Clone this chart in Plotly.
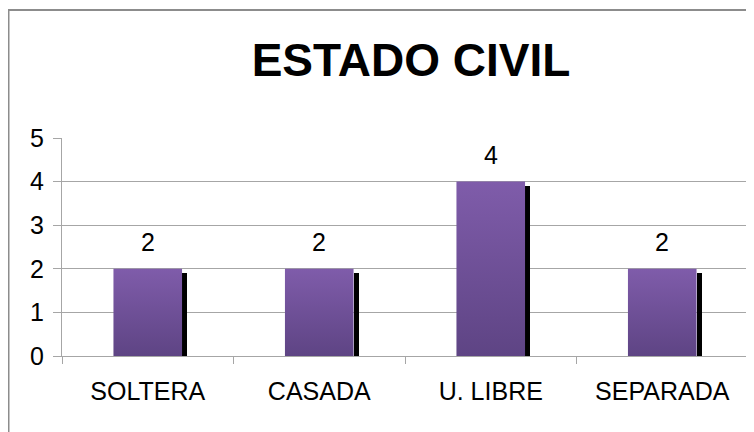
import plotly.graph_objects as go

categories = ["SOLTERA", "CASADA", "U. LIBRE", "SEPARADA"]
values = [2, 2, 4, 2]
y_ticks = [0, 1, 2, 3, 4, 5]
title_text = "ESTADO CIVIL"

# the page body has an 8px margin, so the figure is sized to fill the rest
OFF = 8
W, H = 754 - OFF, 432 - OFF
L, R, T, B = 62 - OFF, 6, 138 - OFF, 76
plot_w = W - L - R
plot_h = H - T - B
n = len(categories)
units_per_px_x = n / plot_w
units_per_px_y = 5 / plot_h

bar_w = 0.40
shadow_px = 5
shadow_drop_px = 4

FONT = "Liberation Sans, Arial, sans-serif"
FS = 25

fig = go.Figure()

# shadows
sh_w = shadow_px * units_per_px_x
fig.add_trace(go.Bar(
    x=[i + bar_w / 2 + sh_w / 2 for i in range(n)],
    y=[v - shadow_drop_px * units_per_px_y for v in values],
    width=[sh_w] * n,
    marker=dict(color="#000000", line=dict(width=0)),
    hoverinfo="skip", showlegend=False,
))

# main bars with vertical gradient
for i, v in enumerate(values):
    x0, x1 = i - bar_w / 2, i + bar_w / 2
    fig.add_trace(go.Scatter(
        x=[x0, x1, x1, x0, x0],
        y=[0, 0, v, v, 0],
        mode="lines",
        line=dict(width=0, color="rgba(0,0,0,0)"),
        fill="toself",
        fillgradient=dict(type="vertical",
                          colorscale=[[0, "#5E4484"], [1, "#7F5CAA"]]),
        name=categories[i],
        showlegend=False,
        hoverinfo="skip",
    ))

for i, v in enumerate(values):
    fig.add_annotation(x=i, y=v, text=str(v), showarrow=False,
                       yanchor="middle", yshift=27,
                       font=dict(family=FONT, size=FS, color="#000"))

# outer border (top and left only visible)
bx = (0.5 - L) / plot_w
by = (H - B - 2) / plot_h
fig.add_shape(type="path", xref="paper", yref="paper",
              path=f"M {bx},{-1} L {bx},{by} L {1.2},{by}",
              line=dict(color="#8C8C8C", width=2))

fig.update_layout(
    width=W, height=H,
    margin=dict(l=L, r=R, t=T, b=B, pad=0),
    paper_bgcolor="white", plot_bgcolor="white",
    title=dict(text=f"<b>{title_text}</b>", x=(411 - OFF) / W, xanchor="center",
               y=1 - (60 - OFF) / H, yanchor="middle",
               font=dict(family=FONT, size=46, color="#000")),
    bargap=0,
    xaxis=dict(range=[-0.5, n - 0.5], tickvals=list(range(n)), ticktext=categories,
               showgrid=False, zeroline=False, showline=True, linecolor="#A6A6A6",
               linewidth=1, ticks="", ticklabelstandoff=13,
               tickfont=dict(family=FONT, size=FS, color="#000"),
               minor=dict(tickvals=[i - 0.5 for i in range(n + 1)], ticks="outside",
                          ticklen=7, tickcolor="#A6A6A6", showgrid=False),
               fixedrange=True),
    yaxis=dict(range=[0, 5], tickvals=y_ticks, showgrid=True, gridcolor="#A6A6A6",
               gridwidth=1, zeroline=False, showline=True, linecolor="#A6A6A6",
               ticks="outside", ticklen=8, tickcolor="#A6A6A6",
               ticklabelstandoff=4,
               tickfont=dict(family=FONT, size=FS, color="#000"),
               fixedrange=True),
)

fig.write_html("out.html")
